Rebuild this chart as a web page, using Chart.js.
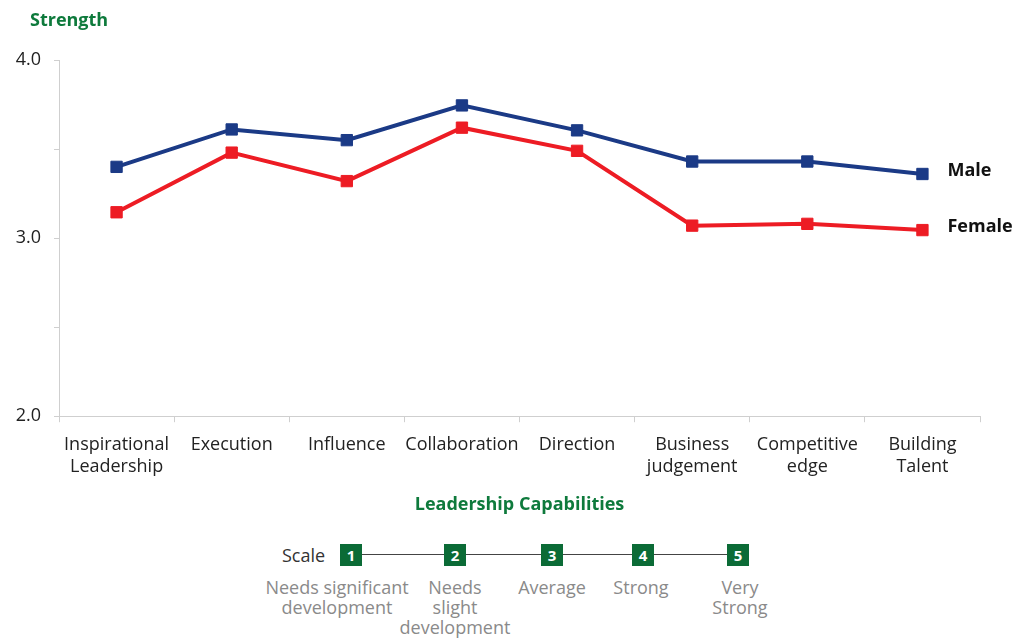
<!DOCTYPE html>
<html>
<head>
<meta charset="utf-8">
<script src="https://cdn.jsdelivr.net/npm/chart.js@4"></script>
<style>
  html, body { margin: 0; padding: 0; background: #fff; }
  body { width: 1016px; height: 639px; position: relative; overflow: hidden; font-family: "Open Sans", sans-serif; }
  #wrap { position: absolute; left: 0; top: 0; width: 1016px; height: 516px; }
  #yTitle { position: absolute; left: 30px; top: 7px; font-size: 18px; font-weight: bold; color: #0e7a3c; }
  #scale { position: absolute; left: 0; top: 530px; width: 1016px; height: 109px; }
  .scale-word { position: absolute; left: 282px; top: 13px; font-size: 18px; color: #333; }
  .scale-line { position: absolute; top: 24px; height: 1px; background: #444; }
  .box { position: absolute; top: 14px; width: 22px; height: 22px; background: #0b6b36; color: #fff;
         font-size: 15px; font-weight: bold; text-align: center; line-height: 22px; }
  .lbl { position: absolute; top: 47px; width: 160px; margin-left: -80px; text-align: center;
         font-size: 18px; line-height: 20px; color: #8a8a8a; }
</style>
</head>
<body>
<div id="wrap"><canvas id="chart"></canvas></div>
<div id="yTitle">Strength</div>
<div id="scale"></div>
<script>
document.addEventListener('DOMContentLoaded', function() {
    // Capabilities and average strength ratings
    const categories = [
        ['Inspirational', 'Leadership'], 'Execution', 'Influence', 'Collaboration',
        'Direction', ['Business', 'judgement'], ['Competitive', 'edge'], ['Building', 'Talent']
    ];
    const maleValues = [3.40, 3.61, 3.55, 3.745, 3.605, 3.43, 3.43, 3.36];
    const femaleValues = [3.145, 3.48, 3.32, 3.62, 3.49, 3.07, 3.08, 3.045];
    const yMajorTicks = [2.0, 3.0, 4.0];

    // Rating scale shown under the chart
    const scaleLevels = [1, 2, 3, 4, 5];
    const scaleLabels = [
        ['Needs significant', 'development'],
        ['Needs', 'slight', 'development'],
        ['Average'],
        ['Strong'],
        ['Very', 'Strong']
    ];

    const maleColor = '#1b3a86';
    const femaleColor = '#ed1c24';

    // Series names written next to the last point of each line
    const endLabels = {
        id: 'endLabels',
        afterDatasetsDraw(chart) {
            const ctx = chart.ctx;
            ctx.save();
            ctx.font = 'bold 18px "Open Sans", sans-serif';
            ctx.fillStyle = '#111';
            ctx.textBaseline = 'middle';
            chart.data.datasets.forEach((ds, i) => {
                const pts = chart.getDatasetMeta(i).data;
                const last = pts[pts.length - 1];
                ctx.fillText(ds.label, last.x + 25, last.y - 3);
            });
            ctx.restore();
        }
    };

    const ctx = document.getElementById('chart').getContext('2d');
    new Chart(ctx, {
        type: 'line',
        data: {
            labels: categories,
            datasets: [
                {
                    label: 'Male',
                    data: maleValues,
                    borderColor: maleColor,
                    backgroundColor: maleColor,
                    borderWidth: 4,
                    pointStyle: 'rect',
                    pointRadius: 8,
                    pointBorderWidth: 1,
                    tension: 0
                },
                {
                    label: 'Female',
                    data: femaleValues,
                    borderColor: femaleColor,
                    backgroundColor: femaleColor,
                    borderWidth: 4,
                    pointStyle: 'rect',
                    pointRadius: 8,
                    pointBorderWidth: 1,
                    tension: 0
                }
            ]
        },
        options: {
            responsive: true,
            maintainAspectRatio: false,
            animation: false,
            layout: { padding: { top: 60, right: 36, left: 0, bottom: 0 } },
            plugins: {
                legend: { display: false },
                tooltip: { enabled: false }
            },
            scales: {
                x: {
                    offset: true,
                    grid: {
                        offset: true,
                        drawOnChartArea: false,
                        tickLength: 6,
                        color: '#cfcfcf'
                    },
                    border: { color: '#cfcfcf', width: 1 },
                    ticks: {
                        color: '#222',
                        font: { family: 'Open Sans', size: 18 },
                        maxRotation: 0,
                        autoSkip: false,
                        padding: 12
                    },
                    title: {
                        display: true,
                        text: 'Leadership Capabilities',
                        color: '#0e7a3c',
                        font: { family: 'Open Sans', size: 18, weight: 'bold' },
                        padding: { top: 5, bottom: 0 }
                    }
                },
                y: {
                    min: 2,
                    max: 4,
                    afterFit(scale) { scale.width = 59; },
                    grid: {
                        drawOnChartArea: false,
                        tickLength: 5,
                        color: '#cfcfcf'
                    },
                    border: { color: '#cfcfcf', width: 1 },
                    ticks: {
                        stepSize: 0.5,
                        color: '#222',
                        padding: 13,
                        font: { family: 'Open Sans', size: 18 },
                        callback: v => yMajorTicks.includes(v) ? v.toFixed(1) : ''
                    }
                }
            }
        },
        plugins: [endLabels]
    });

    // Build the rating scale row
    const scaleEl = document.getElementById('scale');
    const boxX = [340, 444, 541, 632, 727];
    const labelX = [337, 455, 552, 641, 740];
    const word = document.createElement('div');
    word.className = 'scale-word';
    word.textContent = 'Scale';
    scaleEl.appendChild(word);
    const line = document.createElement('div');
    line.className = 'scale-line';
    line.style.left = (boxX[0] + 22) + 'px';
    line.style.width = (boxX[boxX.length - 1] - boxX[0] - 22) + 'px';
    scaleEl.appendChild(line);
    scaleLevels.forEach((lvl, i) => {
        const box = document.createElement('div');
        box.className = 'box';
        box.style.left = boxX[i] + 'px';
        box.textContent = lvl;
        scaleEl.appendChild(box);
        const lbl = document.createElement('div');
        lbl.className = 'lbl';
        lbl.style.left = labelX[i] + 'px';
        lbl.innerHTML = scaleLabels[i].join('<br>');
        scaleEl.appendChild(lbl);
    });
});
</script>
</body>
</html>
